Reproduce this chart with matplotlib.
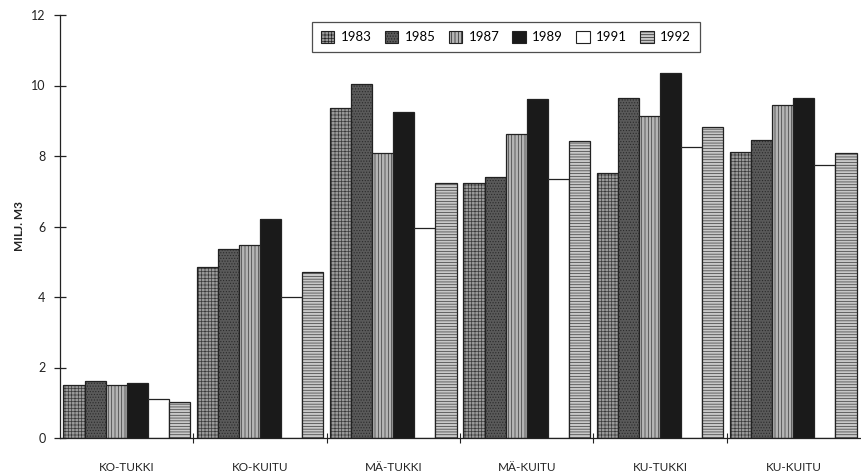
import matplotlib
matplotlib.use("Agg")
import matplotlib.pyplot as plt
import numpy as np
from matplotlib.patches import Patch

categories = ["KO-TUKKI", "KO-KUITU", "MÄ-TUKKI", "MÄ-KUITU", "KU-TUKKI", "KU-KUITU"]
years = ["1983", "1985", "1987", "1989", "1991", "1992"]
v1983 = [1.50, 4.86, 9.37, 7.24, 7.51, 8.11]
v1985 = [1.62, 5.37, 10.03, 7.41, 9.64, 8.45]
v1987 = [1.49, 5.48, 8.09, 8.62, 9.13, 9.44]
v1989 = [1.57, 6.20, 9.26, 9.62, 10.35, 9.64]
v1991 = [1.10, 3.99, 5.95, 7.35, 8.25, 7.74]
v1992 = [1.03, 4.72, 7.23, 8.43, 8.83, 8.08]
series = [v1983, v1985, v1987, v1989, v1991, v1992]

styles = [
    dict(fc="#9a9a9a", hatch="+++++", hc="#3a3a3a"),
    dict(fc="#5a5a5a", hatch="......", hc="#2a2a2a"),
    dict(fc="#b5b5b5", hatch="|||||", hc="#3a3a3a"),
    dict(fc="#1a1a1a", hatch="", hc="#1a1a1a"),
    dict(fc="#ffffff", hatch="", hc="#ffffff"),
    dict(fc="#c8c8c8", hatch="------", hc="#3a3a3a"),
]

plt.rcParams['font.family'] = ['Lato', 'DejaVu Sans']
plt.rcParams['hatch.linewidth'] = 0.5

fig = plt.figure(figsize=(8.62, 4.74), dpi=100)
ax = fig.add_axes([60/862, 1-438/474, 800/862, 423/474])

x = np.arange(len(categories))
w = 0.158
n = len(series)
edge = "#222222"
for i, (vals, st) in enumerate(zip(series, styles)):
    pos = x + (i - (n-1)/2) * w
    ax.bar(pos, vals, w, color=st["fc"], hatch=st["hatch"], edgecolor=st["hc"], linewidth=0)
    ax.bar(pos, vals, w, fill=False, edgecolor=edge, linewidth=0.9)

ax.set_xlim(-0.5, 5.5)
ax.set_ylim(0, 12)
for s in ["top", "right"]:
    ax.spines[s].set_visible(False)
ax.spines["left"].set_color(edge)
ax.spines["bottom"].set_color(edge)
ax.spines["left"].set_linewidth(0.9)
ax.spines["bottom"].set_linewidth(0.9)

ax.set_yticks(np.arange(0, 13, 2))
ax.tick_params(axis="y", direction="inout", length=9, width=0.9, color=edge,
               labelsize=9, pad=6, labelcolor="#222222")
ax.set_xticks(np.arange(0.5, 5.5, 1.0))
ax.set_xticklabels([])
ax.tick_params(axis="x", which="major", direction="inout", length=7, width=0.8, color=edge)
ax.set_xticks(x, minor=True)
ax.set_xticklabels(categories, minor=True)
ax.tick_params(axis="x", which="minor", length=0, labelsize=8.5, pad=17, labelcolor="#222222")

ax.set_ylabel("MILJ. M3", fontsize=8.5, fontweight="bold", color="#222222", labelpad=4)

handles = [Patch(facecolor=st["fc"], hatch=st["hatch"], edgecolor=edge, linewidth=0.8)
           for st in styles]
leg = fig.legend(handles, years, loc="center", bbox_to_anchor=(506/862, 1-37/474),
                 ncol=6, frameon=True, fancybox=False, edgecolor=edge, fontsize=9.5,
                 handlelength=1.0, handleheight=1.0, handletextpad=0.5, columnspacing=1.0,
                 borderpad=0.7)
leg.get_frame().set_linewidth(0.9)

fig.savefig("out.png", dpi=100)
